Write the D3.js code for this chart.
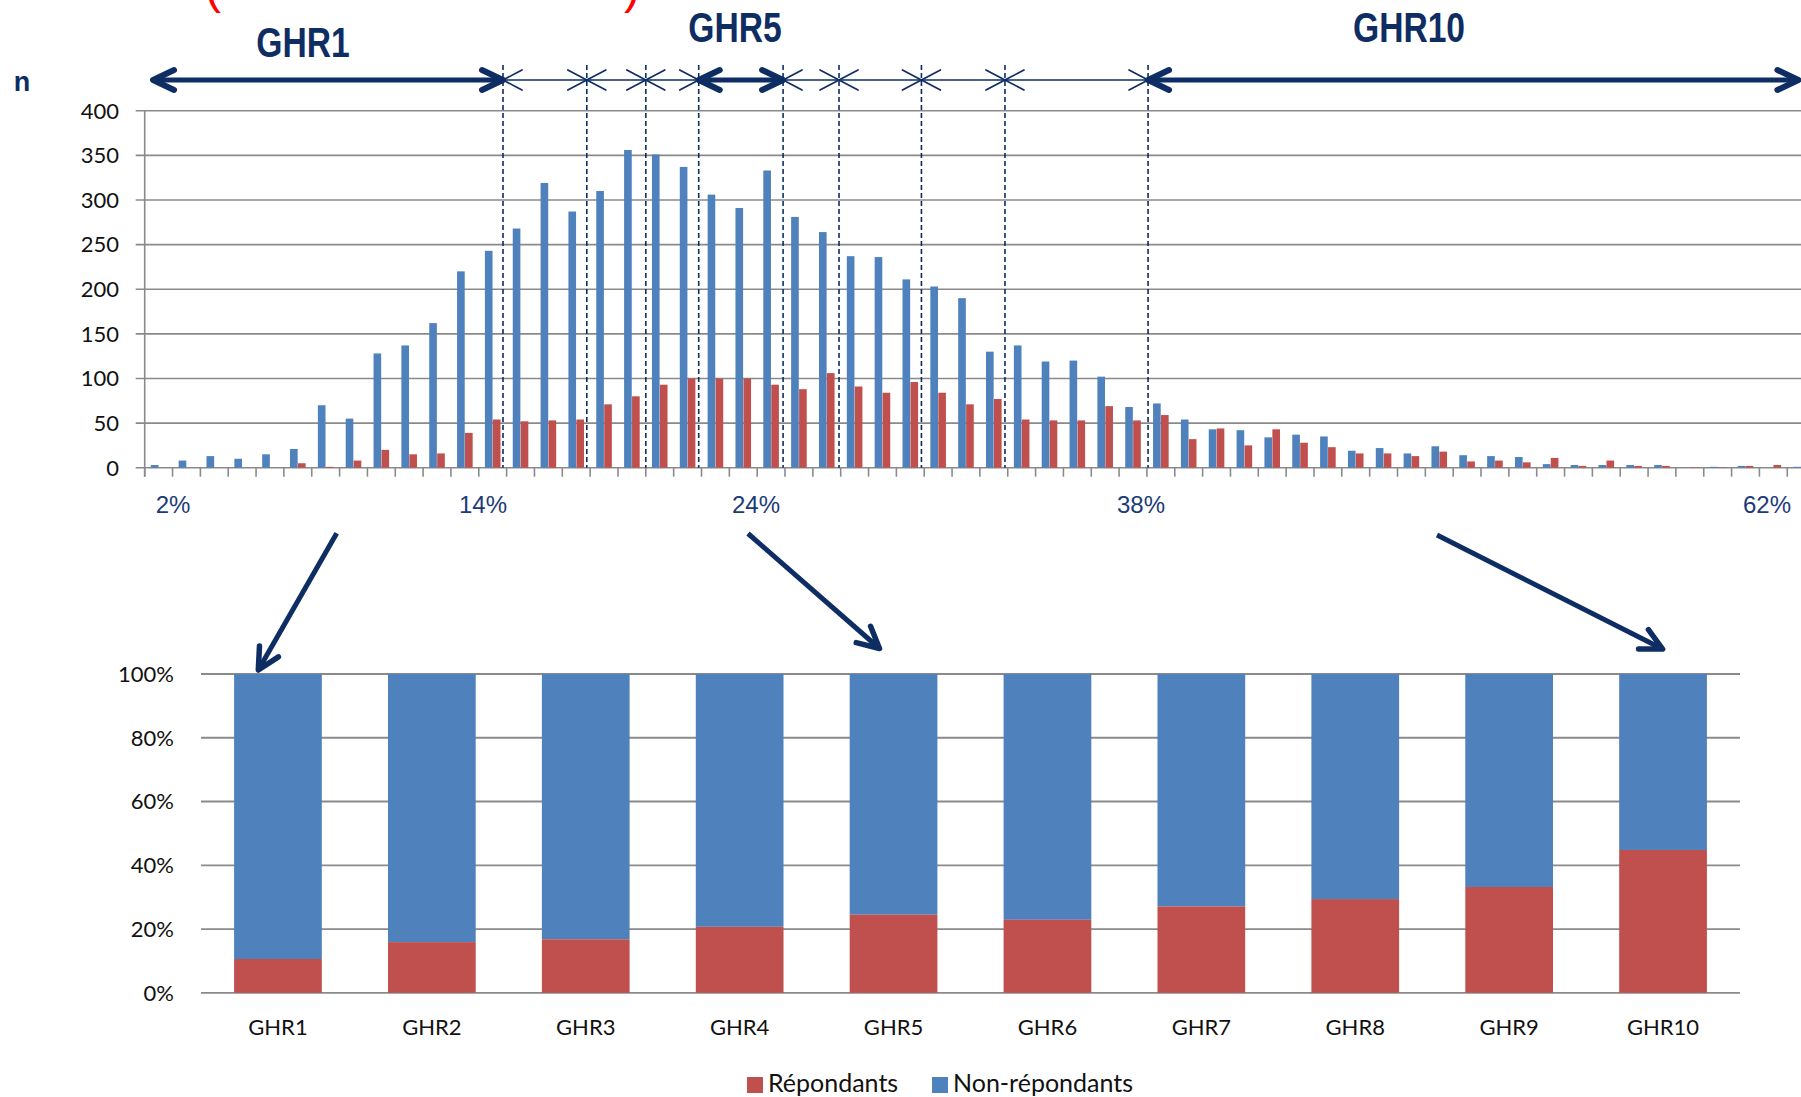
<!DOCTYPE html>
<html>
<head>
<meta charset="utf-8">
<script src="https://cdn.jsdelivr.net/npm/d3@7"></script>
<style>
  html, body { margin: 0; padding: 0; background: #fff; }
  svg { display: block; }
</style>
</head>
<body>
<div id="chart"></div>
<script>
// top chart: counts per 1% class of the score (2% .. 61%)
var nonRespondents = [3, 8, 13, 10, 15, 21, 70, 55, 128, 137, 162, 220, 243, 268, 319, 287, 310, 356, 351, 337,
    306, 291, 333, 281, 264, 237, 236, 211, 203, 190, 130, 137, 119, 120, 102, 68, 72, 54, 43, 42,
    34, 37, 35, 19, 22, 16, 24, 14, 13, 12, 4, 3, 3, 3, 3, 0, 1, 2, 0, 1];
var respondents = [0, 0, 0, 0, 0, 5, 1, 8, 20, 15, 16, 39, 54, 52, 53, 54, 71, 80, 93, 100,
    100, 100, 93, 88, 106, 91, 84, 96, 84, 71, 77, 54, 53, 53, 69, 53, 59, 32, 44, 25,
    43, 28, 23, 16, 16, 13, 18, 7, 8, 6, 11, 2, 8, 2, 2, 0.5, 0.5, 2, 3, 0];
var topTicks = [0, 50, 100, 150, 200, 250, 300, 350, 400];
var pctTicks = [2, 14, 24, 38, 62];
var pctLabels = ["2%", "14%", "24%", "38%", "62%"];

// GHR class limits, in class units along the top axis
var cutoffs = [12.87, 15.88, 18.0, 19.9, 22.93, 24.94, 27.9, 30.9, 36.04];
var arrowStart = 0.3;
var arrowEnd = 59.4;
var boldGroups = ["GHR1", "GHR5", "GHR10"];

// bottom chart: share of respondents per GHR (%)
var groups = ["GHR1", "GHR2", "GHR3", "GHR4", "GHR5", "GHR6", "GHR7", "GHR8", "GHR9", "GHR10"];
var respondentShare = [10.6, 15.9, 16.8, 20.7, 24.5, 22.9, 27.1, 29.4, 33.2, 44.8];
var bottomTicks = [0, 20, 40, 60, 80, 100];
var legendLabels = ["Répondants", "Non-répondants"];

var width = 1801, height = 1097;
var blue = "#4F81BD", red = "#C0504D", navy = "#0E2D63", grid = "#8A8A8A";
var calibri = "Lato, 'Open Sans', sans-serif";

var svg = d3.select("#chart").append("svg")
    .attr("width", width)
    .attr("height", height);

// ---------- top chart ----------
var upper = { left: 144.7, right: 1815.1, y0: 467.7, y1: 110.7 };
var cats = d3.range(1, nonRespondents.length + 1);
var x = d3.scaleBand().domain(cats).range([upper.left, upper.right]).paddingInner(0.44).paddingOuter(0.22);
var xSub = d3.scaleBand().domain(["non", "rep"]).range([0, x.bandwidth()]).paddingInner(0.04);
var xUnit = d3.scaleLinear().domain([0, cats.length]).range([upper.left, upper.right]);
var y = d3.scaleLinear().domain([0, 400]).range([upper.y0, upper.y1]);
// hand-placed score labels under the axis (not evenly spaced in the original)
var xPct = d3.scaleLinear().domain(pctTicks).range([173, 483, 756, 1141, 1767]);

svg.append("g").selectAll("line")
    .data(topTicks)
    .enter().append("line")
    .attr("x1", upper.left - 9).attr("x2", width)
    .attr("y1", function (d) { return y(d); })
    .attr("y2", function (d) { return y(d); })
    .attr("stroke", grid).attr("stroke-width", 1.6);

svg.append("line")
    .attr("x1", upper.left).attr("x2", upper.left)
    .attr("y1", y(400)).attr("y2", y(0) + 9)
    .attr("stroke", grid).attr("stroke-width", 1.6);

svg.append("g").selectAll("line")
    .data(d3.range(0, cats.length + 1))
    .enter().append("line")
    .attr("x1", function (d) { return xUnit(d); })
    .attr("x2", function (d) { return xUnit(d); })
    .attr("y1", y(0)).attr("y2", y(0) + 9)
    .attr("stroke", grid).attr("stroke-width", 1.6);

svg.append("g").selectAll("text")
    .data(topTicks)
    .enter().append("text")
    .attr("x", 119).attr("y", function (d) { return y(d); })
    .attr("dy", "0.36em")
    .attr("text-anchor", "end")
    .attr("font-family", calibri).attr("font-size", 22).attr("fill", "#111")
    .text(function (d) { return d; });

var barGroup = svg.append("g");
barGroup.selectAll(".non")
    .data(nonRespondents)
    .enter().append("rect")
    .attr("x", function (d, i) { return x(cats[i]) + xSub("non"); })
    .attr("y", function (d) { return y(d); })
    .attr("width", xSub.bandwidth())
    .attr("height", function (d) { return y(0) - y(d); })
    .attr("fill", blue);
barGroup.selectAll(".rep")
    .data(respondents)
    .enter().append("rect")
    .attr("x", function (d, i) { return x(cats[i]) + xSub("rep"); })
    .attr("y", function (d) { return y(d); })
    .attr("width", xSub.bandwidth())
    .attr("height", function (d) { return y(0) - y(d); })
    .attr("fill", red);

svg.append("g").selectAll("text")
    .data(pctTicks)
    .enter().append("text")
    .attr("x", function (d) { return xPct(d); })
    .attr("y", 513)
    .attr("text-anchor", "middle")
    .attr("font-family", "'Liberation Sans', Arial, sans-serif")
    .attr("font-size", 24).attr("fill", "#1B3B78")
    .text(function (d, i) { return pctLabels[i]; });

// dashed GHR limits
svg.append("g").selectAll("line")
    .data(cutoffs)
    .enter().append("line")
    .attr("x1", function (d) { return xUnit(d); })
    .attr("x2", function (d) { return xUnit(d); })
    .attr("y1", 65).attr("y2", y(0))
    .attr("stroke", navy).attr("stroke-width", 1.6)
    .attr("stroke-dasharray", "5,3");

// double arrows on top
var arrowY = 80;
var limits = [arrowStart].concat(cutoffs, [arrowEnd]);
var arrows = svg.append("g").attr("fill", "none").attr("stroke", navy)
    .attr("stroke-linecap", "round").attr("stroke-linejoin", "round");
groups.forEach(function (g, i) {
    var a = xUnit(limits[i]), b = xUnit(limits[i + 1]);
    var bold = boldGroups.indexOf(g) >= 0;
    var L = bold ? 21 : 19, H = 10;
    arrows.append("line")
        .attr("x1", a).attr("x2", b).attr("y1", arrowY).attr("y2", arrowY)
        .attr("stroke-width", bold ? 5 : 1.7)
        .attr("stroke-linecap", bold ? "round" : "butt");
    arrows.append("path")
        .attr("d", "M" + (a + L) + "," + (arrowY - H) + "L" + a + "," + arrowY + "L" + (a + L) + "," + (arrowY + H))
        .attr("stroke-width", bold ? 6 : 1.7);
    arrows.append("path")
        .attr("d", "M" + (b - L) + "," + (arrowY - H) + "L" + b + "," + arrowY + "L" + (b - L) + "," + (arrowY + H))
        .attr("stroke-width", bold ? 6 : 1.7);
});

// GHR titles: narrow bold face, squeezed horizontally
var titles = [
    { text: "GHR1", x: 303, y: 56.7 },
    { text: "GHR5", x: 735, y: 42.3 },
    { text: "GHR10", x: 1409, y: 42.3 }
];
svg.append("g").selectAll("text")
    .data(titles)
    .enter().append("text")
    .attr("transform", function (d) { return "translate(" + d.x + "," + d.y + ") scale(0.8,1)"; })
    .attr("text-anchor", "middle")
    .attr("font-family", "'Liberation Sans', Arial, sans-serif").attr("font-weight", "bold")
    .attr("font-size", 42).attr("fill", navy)
    .text(function (d) { return d.text; });

svg.append("text")
    .attr("x", 22).attr("y", 91)
    .attr("text-anchor", "middle")
    .attr("font-family", "'Liberation Sans', Arial, sans-serif").attr("font-weight", "bold")
    .attr("font-size", 27).attr("fill", navy)
    .text("n");

// cut-off red title brackets at the very top
svg.append("text").attr("x", 205).attr("y", 3)
    .attr("font-family", "'Liberation Sans', Arial, sans-serif").attr("font-size", 48).attr("fill", "#FF0000")
    .text("(");
svg.append("text").attr("x", 624).attr("y", 3)
    .attr("font-family", "'Liberation Sans', Arial, sans-serif").attr("font-size", 48).attr("fill", "#FF0000")
    .text(")");

// ---------- bottom chart ----------
var lower = { left: 201, right: 1740, y0: 992.8, y1: 674 };
var xb = d3.scaleBand().domain(groups).range([lower.left, lower.right]).paddingInner(0.43).paddingOuter(0.215);
var yb = d3.scaleLinear().domain([0, 100]).range([lower.y0, lower.y1]);

svg.append("g").selectAll("line")
    .data(bottomTicks)
    .enter().append("line")
    .attr("x1", lower.left).attr("x2", lower.right)
    .attr("y1", function (d) { return yb(d); })
    .attr("y2", function (d) { return yb(d); })
    .attr("stroke", grid).attr("stroke-width", 1.8);

svg.append("g").selectAll("text")
    .data(bottomTicks)
    .enter().append("text")
    .attr("x", 174).attr("y", function (d) { return yb(d); })
    .attr("dy", "0.36em")
    .attr("text-anchor", "end")
    .attr("font-family", calibri).attr("font-size", 22).attr("fill", "#111")
    .text(function (d) { return d + "%"; });

var stacks = svg.append("g");
stacks.selectAll(".nonb")
    .data(respondentShare)
    .enter().append("rect")
    .attr("x", function (d, i) { return xb(groups[i]); })
    .attr("y", yb(100))
    .attr("width", xb.bandwidth())
    .attr("height", function (d) { return yb(d) - yb(100); })
    .attr("fill", blue);
stacks.selectAll(".repb")
    .data(respondentShare)
    .enter().append("rect")
    .attr("x", function (d, i) { return xb(groups[i]); })
    .attr("y", function (d) { return yb(d); })
    .attr("width", xb.bandwidth())
    .attr("height", function (d) { return yb(0) - yb(d); })
    .attr("fill", red);

svg.append("g").selectAll("text")
    .data(groups)
    .enter().append("text")
    .attr("x", function (d) { return xb(d) + xb.bandwidth() / 2; })
    .attr("y", 1035)
    .attr("text-anchor", "middle")
    .attr("font-family", calibri).attr("font-size", 22).attr("fill", "#111")
    .text(function (d) { return d; });

// legend
var legend = [
    { label: legendLabels[0], color: red, x: 747 },
    { label: legendLabels[1], color: blue, x: 932 }
];
var lg = svg.append("g").selectAll("g").data(legend).enter().append("g");
lg.append("rect")
    .attr("x", function (d) { return d.x; }).attr("y", 1077)
    .attr("width", 16).attr("height", 16)
    .attr("fill", function (d) { return d.color; });
lg.append("text")
    .attr("x", function (d) { return d.x + 21; }).attr("y", 1092)
    .attr("font-family", calibri).attr("font-size", 25).attr("fill", "#111")
    .text(function (d) { return d.label; });

// ---------- link arrows between the two charts ----------
var links = [
    { from: [336.7, 533.3], to: [258.3, 670] },
    { from: [748, 533.5], to: [879.5, 648.5] },
    { from: [1437, 535], to: [1662.6, 649] }
];
function headPath(d) {
    var dx = d.from[0] - d.to[0], dy = d.from[1] - d.to[1];
    var len = Math.sqrt(dx * dx + dy * dy);
    var ux = dx / len, uy = dy / len;
    var a = 27 * Math.PI / 180, L = 24;
    var p1 = [d.to[0] + L * (ux * Math.cos(a) - uy * Math.sin(a)), d.to[1] + L * (ux * Math.sin(a) + uy * Math.cos(a))];
    var p2 = [d.to[0] + L * (ux * Math.cos(-a) - uy * Math.sin(-a)), d.to[1] + L * (ux * Math.sin(-a) + uy * Math.cos(-a))];
    return "M" + p1 + "L" + d.to + "L" + p2;
}
var lk = svg.append("g").attr("fill", "none").attr("stroke", navy)
    .attr("stroke-linecap", "round").attr("stroke-linejoin", "round");
lk.selectAll("line").data(links).enter().append("line")
    .attr("x1", function (d) { return d.from[0]; }).attr("y1", function (d) { return d.from[1]; })
    .attr("x2", function (d) { return d.to[0]; }).attr("y2", function (d) { return d.to[1]; })
    .attr("stroke-width", 5).attr("stroke-linecap", "butt");
lk.selectAll("path").data(links).enter().append("path")
    .attr("d", headPath)
    .attr("stroke-width", 5.5);
</script>
</body>
</html>
